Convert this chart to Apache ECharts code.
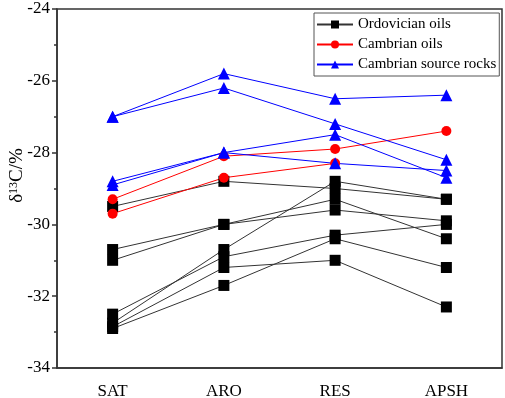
<!DOCTYPE html>
<html>
<head>
<meta charset="utf-8">
<script src="https://cdn.jsdelivr.net/npm/echarts@6/dist/echarts.min.js"></script>
<style>
  html, body { margin: 0; padding: 0; background: #fff; }
  #chart { width: 505px; height: 398px; }
</style>
</head>
<body>
<div id="chart"></div>
<script>
// fractions
const categories = ['SAT', 'ARO', 'RES', 'APSH']

// δ13C values, one array per sample
const ordovicianOils = [
  [-29.5, -28.8, -29.0, -29.3],
  [-30.7, -30.0, -29.3, -30.4],
  [-31.0, -30.0, -29.6, -29.9],
  [-32.5, -30.9, -30.3, -30.0],
  [-32.75, -30.7, -28.8, -29.3],
  [-32.85, -31.2, -31.0, -32.3],
  [-32.9, -31.7, -30.4, -31.2]
]
const cambrianOils = [
  [-29.3, -28.1, -27.9, -27.4],
  [-29.7, -28.7, -28.3, null]
]
const cambrianSourceRocks = [
  [-27.0, -25.8, -26.5, -26.4],
  [-27.0, -26.2, -27.2, -28.2],
  [-28.8, -28.0, -27.5, -28.7],
  [-28.9, -28.0, -28.3, -28.5]
]

const yTicks = { min: -34, max: -24, interval: 2 }

const font = 'Liberation Serif'
const chart = echarts.init(document.getElementById('chart'))

const groups = [
  { name: 'Ordovician oils', rows: ordovicianOils, symbol: 'rect', size: 11, line: '#333', mark: '#000' },
  { name: 'Cambrian oils', rows: cambrianOils, symbol: 'circle', size: 10, line: '#ff0000', mark: '#ff0000' },
  { name: 'Cambrian source rocks', rows: cambrianSourceRocks, symbol: 'triangle', size: 12, line: '#0000ff', mark: '#0000ff' }
]

const series = []
groups.forEach(g => {
  g.rows.forEach(row => {
    series.push({
      name: g.name,
      type: 'line',
      data: row,
      symbol: g.symbol,
      symbolSize: g.size,
      showAllSymbol: true,
      lineStyle: { width: 1, color: g.line },
      itemStyle: { color: g.mark },
      animation: false
    })
  })
})

const option = {
  animation: false,
  grid: {
    left: 57,
    right: 3,
    top: 9,
    bottom: 30,
    outerBoundsMode: 'none',
    show: true,
    borderColor: '#333',
    borderWidth: 1.5
  },
  legend: {
    orient: 'vertical',
    left: 314,
    top: 13,
    data: groups.map(g => g.name),
    itemWidth: 36,
    itemHeight: 10,
    itemGap: 5,
    padding: [4, 3, 4, 2],
    borderColor: '#555',
    borderWidth: 1,
    backgroundColor: '#fff',
    textStyle: { fontFamily: font, fontSize: 15, color: '#000' }
  },
  xAxis: [
    {
      type: 'category',
      data: categories,
      boundaryGap: true,
      axisLine: { lineStyle: { color: '#333', width: 1.5 } },
      axisTick: { alignWithLabel: true, length: 5, lineStyle: { color: '#333', width: 1.5 } },
      axisLabel: { fontFamily: font, fontSize: 17, color: '#000', margin: 15 },
      splitLine: { show: false }
    },
    {
      type: 'category',
      data: categories,
      position: 'bottom',
      boundaryGap: true,
      axisLine: { show: false },
      axisTick: { length: 3, lineStyle: { color: '#333', width: 1.5 } },
      axisLabel: { show: false },
      splitLine: { show: false }
    }
  ],
  yAxis: {
    type: 'value',
    min: yTicks.min,
    max: yTicks.max,
    interval: yTicks.interval,
    name: '{a|δ}{s|13}{a|C/%}',
    nameLocation: 'middle',
    nameRotate: 90,
    nameGap: 30,
    nameMoveOverlap: false,
    nameTextStyle: {
      padding: [0, 0, 0, 26],
      rich: {
        a: { fontFamily: font, fontSize: 19, color: '#000' },
        s: { fontFamily: font, fontSize: 12, color: '#000', verticalAlign: 'top', padding: [0, 0, 7, 0] }
      }
    },
    axisLine: { show: true, lineStyle: { color: '#333', width: 1.5 } },
    axisTick: { show: true, length: 5, lineStyle: { color: '#333', width: 1.5 } },
    minorTick: { show: true, splitNumber: 2, length: 3, lineStyle: { color: '#333', width: 1.5 } },
    axisLabel: { fontFamily: font, fontSize: 17, color: '#000', margin: 7 },
    splitLine: { show: false }
  },
  series: series
}

chart.setOption(option)
</script>
</body>
</html>
